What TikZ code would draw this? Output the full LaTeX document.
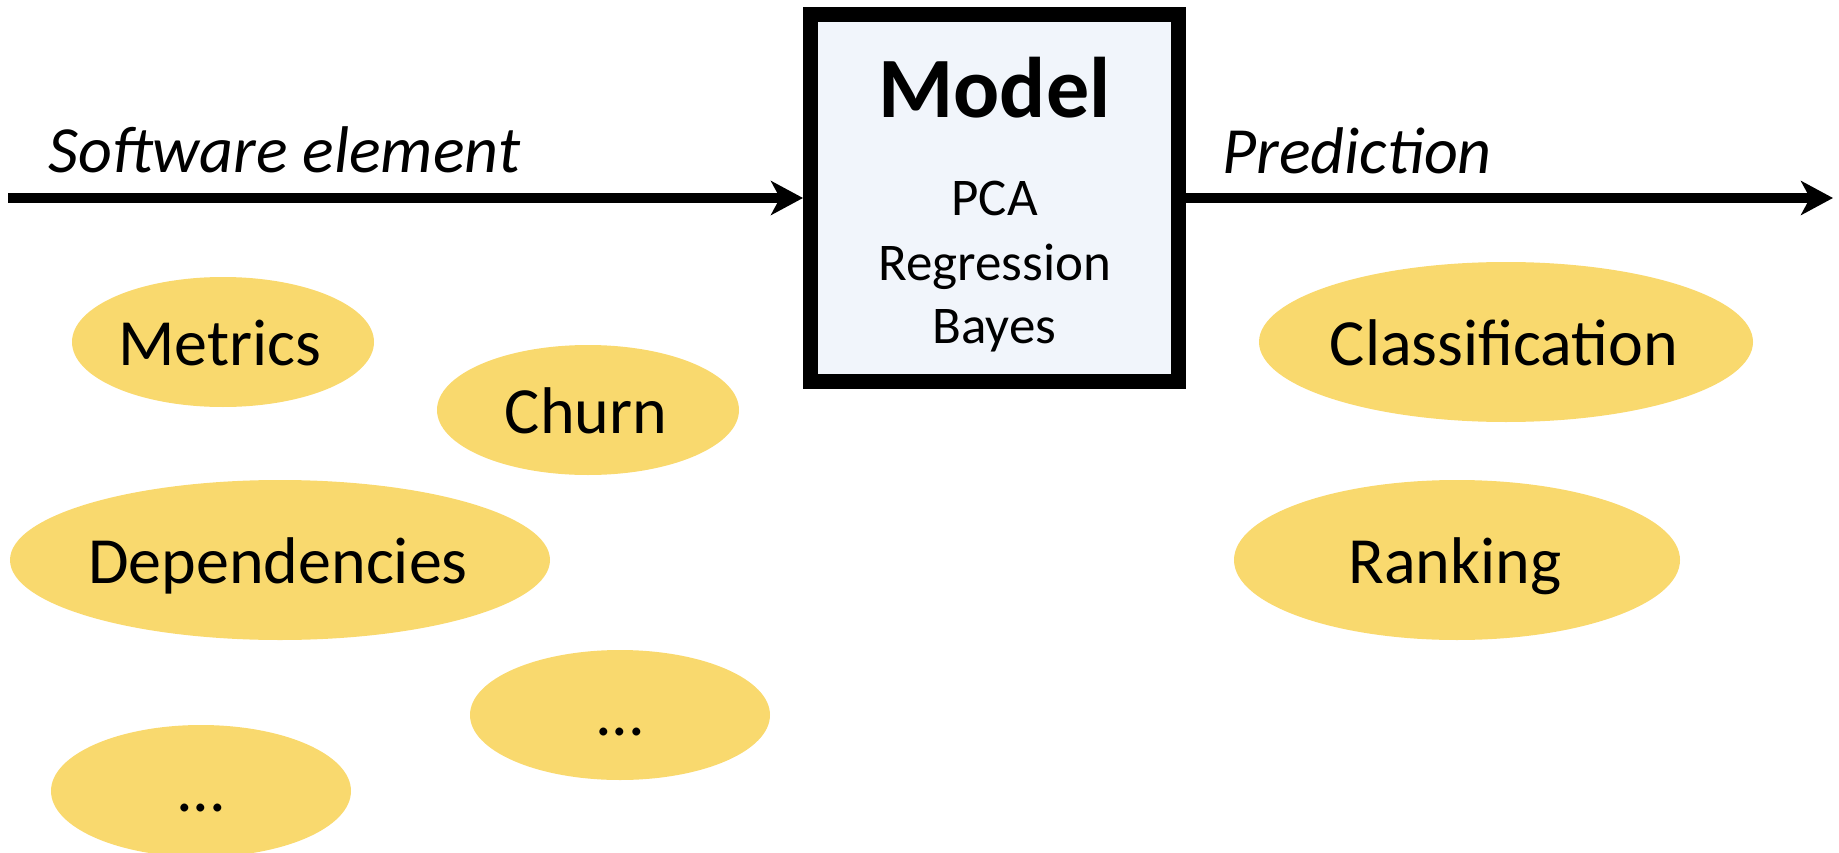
\documentclass[tikz,border=0pt]{standalone}
\usepackage{fontspec}
\setmainfont{Carlito}
\usetikzlibrary{arrows.meta}
\definecolor{ellfill}{RGB}{249,217,110}
\definecolor{boxfill}{RGB}{241,245,251}
\begin{document}
\begin{tikzpicture}[x=1pt,y=-1pt,
  blob/.style={ellipse,fill=ellfill,inner sep=0pt},
  blobtext/.style={anchor=base,font=\fontsize{66}{72}\selectfont},
  lbl/.style={anchor=base west,font=\fontsize{66}{72}\selectfont\itshape},
  flow/.style={line width=10pt,-{Stealth[length=32pt,width=34pt,inset=9pt]}},
  modelbox/.style={draw=black,line width=15pt,fill=boxfill,minimum width=368pt,minimum height=367pt,inner sep=0pt},
  boxtext/.style={anchor=base,font=\fontsize{53}{58}\selectfont}]
\useasboundingbox (0,0) rectangle (1839,853);
% ellipses
\fill[ellfill] (223,342) ellipse [x radius=151, y radius=65];
\fill[ellfill] (588,410) ellipse [x radius=151, y radius=65];
\fill[ellfill] (280,560) ellipse [x radius=270, y radius=80];
\fill[ellfill] (620,715) ellipse [x radius=150, y radius=65];
\fill[ellfill] (201,791) ellipse [x radius=150, y radius=66];
\fill[ellfill] (1506,342) ellipse [x radius=247, y radius=80];
\fill[ellfill] (1457,560) ellipse [x radius=223, y radius=80];
\node[blobtext] (metrics) at (220,365) {Metrics};
\node[blobtext] (churn) at (586,433) {Churn};
\node[blobtext] (deps) at (278,583) {Dependencies};
\node[blobtext] (dots1) at (620,735) {...};
\node[blobtext] (dots2) at (201,811) {...};
\node[blobtext] (class) at (1504,365) {Classification};
\node[blobtext] (rank) at (1455,583) {Ranking};
% model box
\node[modelbox] (model) at (994.5,198) {};
\node[anchor=base,font=\fontsize{86}{92}\selectfont\bfseries] (mtitle) at (994.5,118) {Model};
\node[boxtext] (pca) at (994.5,216) {PCA};
\node[boxtext] (reg) at (994.5,280) {Regression};
\node[boxtext] (bayes) at (994.5,343) {Bayes};
% arrows
\coordinate (instart) at (8,198);
\coordinate (outend) at (1833,198);
\draw[flow] (instart) -- (model.west);
\draw[flow] (model.east) -- (outend);
\node[lbl] (sw) at (45,173) {Software element};
\node[lbl] (pred) at (1219,174) {Prediction};
\end{tikzpicture}
\end{document}
